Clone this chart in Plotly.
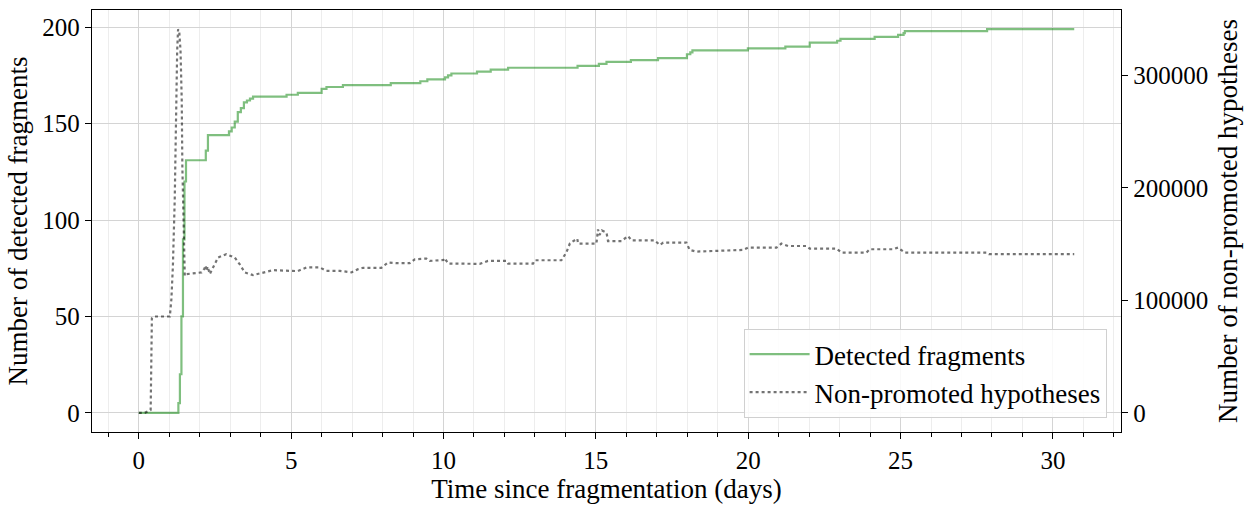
import plotly.graph_objects as go

# Detected fragments: cumulative count, step changes (days, count)
frag_days = [0, 1.21, 1.30, 1.35, 1.40, 1.45, 1.50, 1.55, 2.20, 2.27, 2.96, 3.05,
             3.15, 3.25, 3.35, 3.45, 3.55, 3.65, 3.75, 4.85, 5.22, 6.00, 6.16,
             6.70, 8.27, 9.24, 9.47, 10.05, 10.15, 10.26, 11.10, 11.55, 12.12,
             14.40, 15.10, 15.35, 16.15, 17.04, 17.99, 18.10, 18.17, 19.99, 21.22,
             22.02, 22.92, 23.03, 24.15, 24.92, 25.10, 25.14, 27.84, 30.70]
frag_count = [0, 0, 5, 20, 50, 90, 120, 131, 136, 144, 146, 148,
              151, 156, 158, 161, 162, 163, 164, 165, 166, 168, 169,
              170, 171, 172, 173, 174, 175, 176, 177, 178, 179,
              180, 181, 182, 183, 184, 186, 187, 188, 189, 190,
              192, 193, 194, 195, 196, 197, 198, 199, 199]

# Non-promoted hypotheses over time (days, count)
hyp_days = [0, 0.20, 0.39, 0.43, 0.49, 1.02, 1.07, 1.12, 1.18, 1.21, 1.24, 1.26,
            1.29, 1.33, 1.37, 1.41, 1.43, 1.48, 1.51, 1.56, 2.06, 2.15, 2.20,
            2.22, 2.26, 2.33, 2.46, 2.60, 2.87, 3.15, 3.31, 3.48, 3.75, 4.08,
            4.41, 4.95, 5.22, 5.50, 5.94, 6.16, 6.60, 6.98, 7.20, 7.36, 7.96,
            8.18, 8.46, 8.89, 9.06, 9.44, 9.55, 10.00, 10.04, 10.15, 11.19,
            11.46, 12.07, 12.12, 12.94, 13.00, 13.87, 14.03, 14.15, 14.39,
            14.42, 15.02, 15.07, 15.12, 15.20, 15.35, 15.40, 15.84, 16.06,
            16.17, 16.93, 17.10, 17.21, 17.97, 18.08, 18.30, 19.83, 20.00,
            20.93, 21.09, 21.31, 21.91, 22.02, 22.90, 23.06, 23.88, 23.99,
            24.76, 24.92, 25.14, 27.82, 27.90, 30.70]
hyp_count = [0, 0, 2600, 84000, 85600, 85600, 101000, 130600, 189500, 248600,
             292500, 321900, 341000, 338000, 322000, 277800, 218900, 145400,
             121800, 123300, 124800, 128000, 131000, 126000, 130000, 123300,
             130600, 138000, 141000, 138000, 132100, 124800, 122400, 124800,
             126800, 126200, 126000, 129200, 129200, 126200, 126200, 124800,
             127700, 128900, 128900, 133600, 133000, 133000, 136500, 137100,
             135000, 135900, 137500, 132700, 132400, 135000, 135000, 132700,
             132700, 135600, 135600, 142400, 150700, 154800, 150400, 150400,
             163000, 158000, 162000, 160100, 152700, 152700, 157100, 153300,
             153300, 149200, 151300, 151300, 144800, 143300, 144800, 146900,
             146900, 150400, 148300, 148300, 146000, 146000, 142400, 142400,
             145400, 145400, 146900, 142400, 142400, 141000, 141000]

x_ticks = [0, 5, 10, 15, 20, 25, 30]
left_ticks = [0, 50, 100, 150, 200]
right_ticks = [0, 100000, 200000, 300000]

FONT = "Liberation Serif"
TITLE_SIZE = 27

fig = go.Figure()
fig.add_trace(go.Scatter(
    x=frag_days, y=frag_count, mode="lines", name="Detected fragments",
    line=dict(color="rgba(0,128,0,0.5)", width=2.2, shape="hv"),
))
fig.add_trace(go.Scatter(
    x=hyp_days, y=hyp_count, mode="lines", name="Non-promoted hypotheses",
    yaxis="y2",
    line=dict(color="rgba(0,0,0,0.55)", width=2.2, dash="dot"),
))

x_span = max(frag_days) - min(frag_days)
y_span = max(frag_count)
h_span = max(hyp_count)

fig.update_layout(
    width=1247, height=506,
    margin=dict(l=92, r=126, t=9, b=72),
    paper_bgcolor="white", plot_bgcolor="white",
    font=dict(family=FONT, size=25, color="black"),
    showlegend=True,
    legend=dict(
        x=0.986, y=0.033, xanchor="right", yanchor="bottom",
        bgcolor="rgba(255,255,255,0.85)", bordercolor="#d0d0d0", borderwidth=1,
        font=dict(family=FONT, size=27), itemwidth=60, tracegroupgap=0,
    ),
    xaxis=dict(
        range=[-0.05 * x_span, max(frag_days) + 0.05 * x_span],
        tickvals=x_ticks, ticks="outside", ticklen=6, tickwidth=1,
        tickcolor="black",
        showgrid=True, gridcolor="#d4d4d4", gridwidth=1,
        minor=dict(dtick=1, tick0=0, showgrid=True, gridcolor="#ededed",
                   ticks="outside", ticklen=3.5, tickcolor="black"),
        showline=True, linecolor="black", linewidth=1.3, mirror=True,
        zeroline=False,
        title=dict(text="Time since fragmentation (days)", standoff=4,
                   font=dict(size=TITLE_SIZE)),
    ),
    yaxis=dict(
        range=[-0.05 * y_span, 1.05 * y_span],
        tickvals=left_ticks, ticks="outside", ticklen=6, tickwidth=1,
        tickcolor="black",
        showgrid=True, gridcolor="#d4d4d4", gridwidth=1,
        showline=True, linecolor="black", linewidth=1.3, mirror=True,
        zeroline=False,
        title=dict(text="Number of detected fragments", standoff=6,
                   font=dict(size=TITLE_SIZE)),
    ),
    yaxis2=dict(
        overlaying="y", side="right",
        range=[-0.05 * h_span, 1.05 * h_span],
        tickvals=right_ticks, tickformat="d",
        ticks="outside", ticklen=6, tickwidth=1,
        tickcolor="black", showgrid=False, zeroline=False,
        showline=True, linecolor="black", linewidth=1.3,
        title=dict(text="Number of non-promoted hypotheses", standoff=10,
                   font=dict(size=TITLE_SIZE)),
    ),
)

fig.write_html("out.html")
